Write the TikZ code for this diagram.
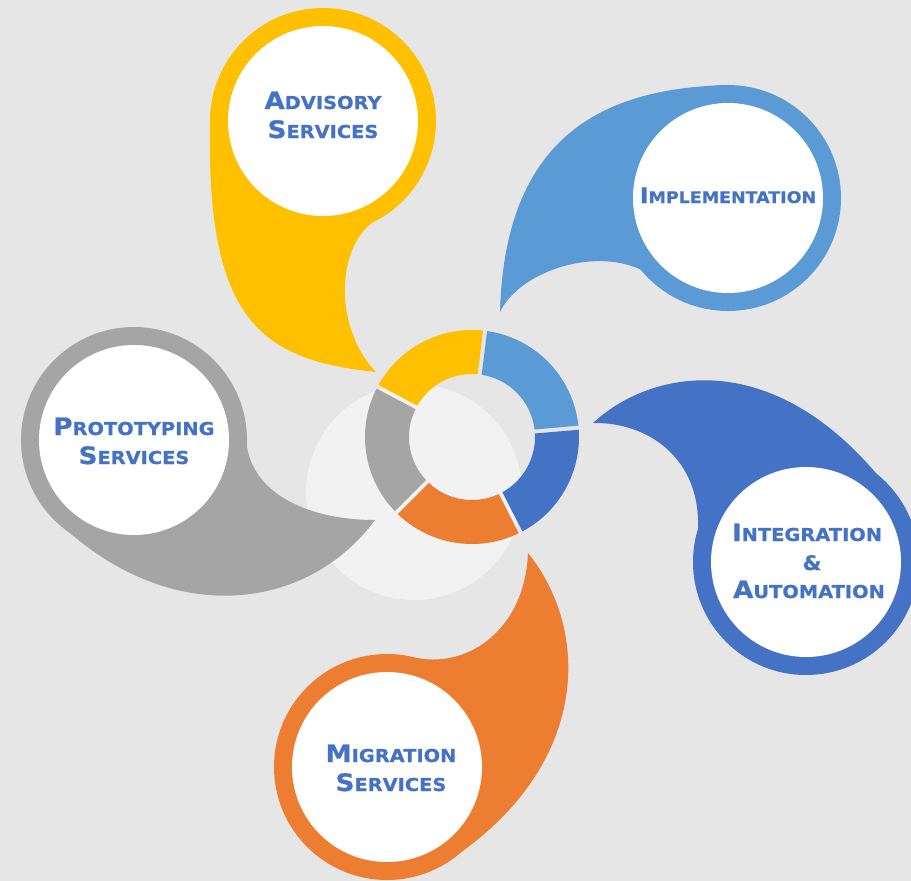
\documentclass[tikz,border=0pt]{standalone}
\usepackage{fontspec}
\newfontfamily\labfont[FakeStretch=1.09, BoldFeatures={FakeBold=0.7}]{DejaVu Sans}
\definecolor{bg}{HTML}{E6E6E6}
\definecolor{light}{HTML}{F2F2F2}
\definecolor{cY}{HTML}{FFC000}
\definecolor{cLB}{HTML}{5B9BD5}
\definecolor{cDB}{HTML}{4472C4}
\definecolor{cOr}{HTML}{ED7D31}
\definecolor{cGr}{HTML}{A5A5A5}
\definecolor{txt}{HTML}{4472C4}
\newcommand\BigSm[2]{{\fontsize{24}{24}\selectfont #1}{\fontsize{17.8}{17.8}\selectfont #2}}
\newcommand\BigSmS[2]{{\fontsize{21.5}{21.5}\selectfont #1}{\fontsize{16}{16}\selectfont #2}}
\begin{document}
\begin{tikzpicture}[x=1pt,y=-1pt,
  lab/.style={anchor=base,inner sep=0pt,text=txt,font=\labfont\bfseries},
  whitedisc/.style={fill=white}]
\useasboundingbox (0,0) rectangle (911,881);
\fill[bg] (0,0) rectangle (911,881);
% light shadow circle
\fill[light] (414,492) circle[radius=108];
% ---- Advisory (yellow)
\fill[cY] (323,121) circle[radius=113];
\fill[cY] (210,121) .. controls (206,320) and (260,360) .. (376,372)
  .. controls (335,330) and (335,250) .. (373,222) -- (323,121) -- cycle;
% ---- Implementation (light blue)
\fill[cLB] (728,198) circle[radius=113];
\fill[cLB] (728,85) .. controls (610,88) and (505,130) .. (500,312)
  .. controls (520,270) and (600,245) .. (647,273) -- (728,198) -- cycle;
% ---- Integration (dark blue)
\fill[cDB] (806,562) circle[radius=113];
\fill[cDB] (880,478) .. controls (770,345) and (650,370) .. (593,423)
  .. controls (650,422) and (700,460) .. (698,527) -- (806,562) -- cycle;
% ---- Migration (orange)
\fill[cOr] (387,767) circle[radius=113];
\fill[cOr] (417,658) .. controls (470,668) and (525,628) .. (528,553)
  .. controls (590,630) and (590,760) .. (460,853) -- (387,767) -- cycle;
% ---- Prototyping (gray)
\fill[cGr] (134,440) circle[radius=113];
\fill[cGr] (247,447) .. controls (255,495) and (310,520) .. (375,520)
  .. controls (310,608) and (180,628) .. (70,533) -- (134,440) -- cycle;
% ---- central ring
\coordinate (C) at (472,437);
\foreach \a/\b/\c in {83/152/cY, 5/83/cLB, -63/5/cDB, -135/-63/cOr, 152/225/cGr}{
  \pgfmathsetmacro\so{-(\a)-1.1}
  \pgfmathsetmacro\eo{-(\b)+1.1}
  \pgfmathsetmacro\si{-(\b)+1.8}
  \pgfmathsetmacro\ei{-(\a)-1.8}
  \fill[\c] ([shift={(\so:107)}]C) arc[start angle=\so, end angle=\eo, radius=107]
    -- ([shift={(\si:63)}]C) arc[start angle=\si, end angle=\ei, radius=63] -- cycle;
}
% ---- white discs
\fill[whitedisc] (323,121) circle[radius=95];
\fill[whitedisc] (728,198) circle[radius=95];
\fill[whitedisc] (806,562) circle[radius=95];
\fill[whitedisc] (387,767) circle[radius=95];
\fill[whitedisc] (134,440) circle[radius=95];
% ---- labels
\node[lab] (adv1) at (323,109) {\BigSm{A}{DVISORY}};
\node[lab] (adv2) at (323,138) {\BigSm{S}{ERVICES}};
\node[lab] (imp) at (728,203) {\BigSmS{I}{MPLEMENTATION}};
\node[lab] (int1) at (807,541) {\BigSm{I}{NTEGRATION}};
\node[lab] (int2) at (812,570) {\fontsize{20}{20}\selectfont\&};
\node[lab] (int3) at (809,598) {\BigSm{A}{UTOMATION}};
\node[lab] (mig1) at (391,762) {\BigSm{M}{IGRATION}};
\node[lab] (mig2) at (391,791) {\BigSm{S}{ERVICES}};
\node[lab] (pro1) at (134,435) {\BigSm{P}{ROTOTYPING}};
\node[lab] (pro2) at (134,464) {\BigSm{S}{ERVICES}};
\end{tikzpicture}
\end{document}
